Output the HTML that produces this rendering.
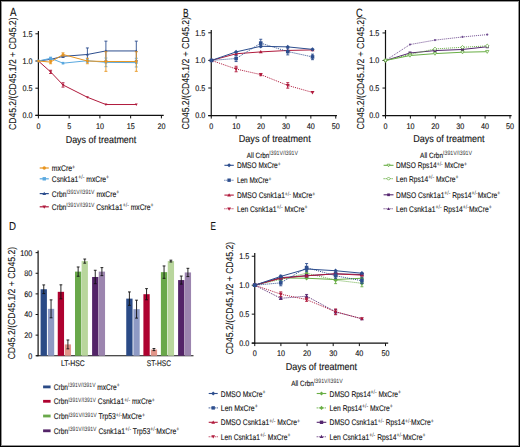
<!DOCTYPE html>
<html><head><meta charset="utf-8"><style>
html,body{margin:0;padding:0;background:#fff;}
#wrap{position:relative;width:520px;height:447px;overflow:hidden;}
#wrap svg{position:absolute;left:0;top:0;}
#frame{position:absolute;left:0;top:0;width:520px;height:447px;box-sizing:border-box;border:1px solid #000;box-shadow:inset 0 0 0 1px rgba(0,0,0,0.42);}
text{font-family:"Liberation Sans",sans-serif;stroke:#111;stroke-width:0.12px;text-rendering:geometricPrecision;} tspan[font-size="6.3"]{stroke-width:0;fill:#333;}
</style></head><body><div id="wrap">
<svg width="520" height="447" viewBox="0 0 520 447" font-family="Liberation Sans, sans-serif">
<rect x="0" y="0" width="520" height="447" fill="#fff"/>
<text x="0" y="0" font-size="10" text-anchor="middle" fill="#111" textLength="112.5" lengthAdjust="spacingAndGlyphs" transform="translate(16.1,73.75) rotate(-90)">CD45.2/(CD45.1/2 + CD45.2)</text>
<text x="10.1" y="16.0" font-size="11.8" text-anchor="start" fill="#111" textLength="6.5" lengthAdjust="spacingAndGlyphs" >A</text>
<line x1="38.40" y1="31.00" x2="38.40" y2="116.00" stroke="#111" stroke-width="1.2" />
<line x1="35.40" y1="115.40" x2="163.70" y2="115.40" stroke="#111" stroke-width="1.2" />
<line x1="35.40" y1="115.40" x2="38.40" y2="115.40" stroke="#111" stroke-width="1" />
<text x="22.47" y="118.25" font-size="8.2" text-anchor="start" fill="#111" textLength="10.03" lengthAdjust="spacingAndGlyphs" >0.0</text>
<line x1="35.40" y1="88.20" x2="38.40" y2="88.20" stroke="#111" stroke-width="1" />
<text x="22.47" y="91.05" font-size="8.2" text-anchor="start" fill="#111" textLength="10.03" lengthAdjust="spacingAndGlyphs" >0.5</text>
<line x1="35.40" y1="61.00" x2="38.40" y2="61.00" stroke="#111" stroke-width="1" />
<text x="22.47" y="63.85000000000001" font-size="8.2" text-anchor="start" fill="#111" textLength="10.03" lengthAdjust="spacingAndGlyphs" >1.0</text>
<line x1="35.40" y1="33.80" x2="38.40" y2="33.80" stroke="#111" stroke-width="1" />
<text x="22.47" y="36.65000000000001" font-size="8.2" text-anchor="start" fill="#111" textLength="10.03" lengthAdjust="spacingAndGlyphs" >1.5</text>
<line x1="38.40" y1="115.40" x2="38.40" y2="118.40" stroke="#111" stroke-width="1" />
<text x="36.39" y="129.4" font-size="8.2" text-anchor="start" fill="#111" textLength="4.01" lengthAdjust="spacingAndGlyphs" >0</text>
<line x1="69.15" y1="115.40" x2="69.15" y2="118.40" stroke="#111" stroke-width="1" />
<text x="67.15" y="129.4" font-size="8.2" text-anchor="start" fill="#111" textLength="4.01" lengthAdjust="spacingAndGlyphs" >5</text>
<line x1="99.90" y1="115.40" x2="99.90" y2="118.40" stroke="#111" stroke-width="1" />
<text x="95.89" y="129.4" font-size="8.2" text-anchor="start" fill="#111" textLength="8.03" lengthAdjust="spacingAndGlyphs" >10</text>
<line x1="130.65" y1="115.40" x2="130.65" y2="118.40" stroke="#111" stroke-width="1" />
<text x="126.64" y="129.4" font-size="8.2" text-anchor="start" fill="#111" textLength="8.03" lengthAdjust="spacingAndGlyphs" >15</text>
<line x1="161.40" y1="115.40" x2="161.40" y2="118.40" stroke="#111" stroke-width="1" />
<text x="157.39" y="129.4" font-size="8.2" text-anchor="start" fill="#111" textLength="8.03" lengthAdjust="spacingAndGlyphs" >20</text>
<text x="65.7" y="142.6" font-size="10.0" text-anchor="start" fill="#111" textLength="70.6" lengthAdjust="spacingAndGlyphs" >Days of treatment</text>
<polyline points="38.40,61.00 50.60,71.88 63.00,84.94 87.40,97.28 105.90,104.52 136.30,104.52" fill="none" stroke="#B01A3C" stroke-width="1.0" stroke-linejoin="round"/>
<path d="M38.40,62.43L39.83,59.96L36.97,59.96Z" fill="#B01A3C"/>
<line x1="50.60" y1="70.25" x2="50.60" y2="73.51" stroke="#B01A3C" stroke-width="0.9" />
<line x1="49.10" y1="70.25" x2="52.10" y2="70.25" stroke="#B01A3C" stroke-width="0.9" />
<line x1="49.10" y1="73.51" x2="52.10" y2="73.51" stroke="#B01A3C" stroke-width="0.9" />
<path d="M50.60,73.31L52.03,70.84L49.17,70.84Z" fill="#B01A3C"/>
<line x1="63.00" y1="82.76" x2="63.00" y2="87.11" stroke="#B01A3C" stroke-width="0.9" />
<line x1="61.50" y1="82.76" x2="64.50" y2="82.76" stroke="#B01A3C" stroke-width="0.9" />
<line x1="61.50" y1="87.11" x2="64.50" y2="87.11" stroke="#B01A3C" stroke-width="0.9" />
<path d="M63.00,86.37L64.43,83.90L61.57,83.90Z" fill="#B01A3C"/>
<path d="M87.40,98.71L88.83,96.24L85.97,96.24Z" fill="#B01A3C"/>
<path d="M105.90,105.95L107.33,103.48L104.47,103.48Z" fill="#B01A3C"/>
<path d="M136.30,105.95L137.73,103.48L134.87,103.48Z" fill="#B01A3C"/>
<polyline points="38.40,61.00 50.60,59.37 63.00,56.38 87.40,54.47 105.90,50.94 136.30,50.94" fill="none" stroke="#2D4E8E" stroke-width="1.0" stroke-linejoin="round"/>
<path d="M38.40,59.57L39.83,62.04L36.97,62.04Z" fill="#2D4E8E"/>
<path d="M50.60,57.94L52.03,60.41L49.17,60.41Z" fill="#2D4E8E"/>
<line x1="63.00" y1="55.29" x2="63.00" y2="57.46" stroke="#2D4E8E" stroke-width="0.9" />
<line x1="61.50" y1="55.29" x2="64.50" y2="55.29" stroke="#2D4E8E" stroke-width="0.9" />
<line x1="61.50" y1="57.46" x2="64.50" y2="57.46" stroke="#2D4E8E" stroke-width="0.9" />
<path d="M63.00,54.95L64.43,57.42L61.57,57.42Z" fill="#2D4E8E"/>
<line x1="87.40" y1="47.94" x2="87.40" y2="61.00" stroke="#2D4E8E" stroke-width="0.9" />
<line x1="85.90" y1="47.94" x2="88.90" y2="47.94" stroke="#2D4E8E" stroke-width="0.9" />
<line x1="85.90" y1="61.00" x2="88.90" y2="61.00" stroke="#2D4E8E" stroke-width="0.9" />
<path d="M87.40,53.04L88.83,55.51L85.97,55.51Z" fill="#2D4E8E"/>
<line x1="105.90" y1="41.14" x2="105.90" y2="60.73" stroke="#2D4E8E" stroke-width="0.9" />
<line x1="104.40" y1="41.14" x2="107.40" y2="41.14" stroke="#2D4E8E" stroke-width="0.9" />
<line x1="104.40" y1="60.73" x2="107.40" y2="60.73" stroke="#2D4E8E" stroke-width="0.9" />
<path d="M105.90,49.51L107.33,51.98L104.47,51.98Z" fill="#2D4E8E"/>
<line x1="136.30" y1="41.14" x2="136.30" y2="60.73" stroke="#2D4E8E" stroke-width="0.9" />
<line x1="134.80" y1="41.14" x2="137.80" y2="41.14" stroke="#2D4E8E" stroke-width="0.9" />
<line x1="134.80" y1="60.73" x2="137.80" y2="60.73" stroke="#2D4E8E" stroke-width="0.9" />
<path d="M136.30,49.51L137.73,51.98L134.87,51.98Z" fill="#2D4E8E"/>
<polyline points="38.40,61.00 50.60,58.28 63.00,63.18 87.40,60.73 105.90,62.36 136.30,62.63" fill="none" stroke="#5AA9E0" stroke-width="1.0" stroke-linejoin="round"/>
<rect x="37.10" y="59.70" width="2.60" height="2.60" fill="#5AA9E0"/>
<line x1="50.60" y1="57.19" x2="50.60" y2="59.37" stroke="#5AA9E0" stroke-width="0.9" />
<line x1="49.10" y1="57.19" x2="52.10" y2="57.19" stroke="#5AA9E0" stroke-width="0.9" />
<line x1="49.10" y1="59.37" x2="52.10" y2="59.37" stroke="#5AA9E0" stroke-width="0.9" />
<rect x="49.30" y="56.98" width="2.60" height="2.60" fill="#5AA9E0"/>
<rect x="61.70" y="61.88" width="2.60" height="2.60" fill="#5AA9E0"/>
<line x1="87.40" y1="59.10" x2="87.40" y2="62.36" stroke="#5AA9E0" stroke-width="0.9" />
<line x1="85.90" y1="59.10" x2="88.90" y2="59.10" stroke="#5AA9E0" stroke-width="0.9" />
<line x1="85.90" y1="62.36" x2="88.90" y2="62.36" stroke="#5AA9E0" stroke-width="0.9" />
<rect x="86.10" y="59.43" width="2.60" height="2.60" fill="#5AA9E0"/>
<line x1="105.90" y1="58.01" x2="105.90" y2="66.71" stroke="#5AA9E0" stroke-width="0.9" />
<line x1="104.40" y1="58.01" x2="107.40" y2="58.01" stroke="#5AA9E0" stroke-width="0.9" />
<line x1="104.40" y1="66.71" x2="107.40" y2="66.71" stroke="#5AA9E0" stroke-width="0.9" />
<rect x="104.60" y="61.06" width="2.60" height="2.60" fill="#5AA9E0"/>
<line x1="136.30" y1="58.28" x2="136.30" y2="66.98" stroke="#5AA9E0" stroke-width="0.9" />
<line x1="134.80" y1="58.28" x2="137.80" y2="58.28" stroke="#5AA9E0" stroke-width="0.9" />
<line x1="134.80" y1="66.98" x2="137.80" y2="66.98" stroke="#5AA9E0" stroke-width="0.9" />
<rect x="135.00" y="61.33" width="2.60" height="2.60" fill="#5AA9E0"/>
<polyline points="38.40,61.00 50.60,62.09 63.00,54.47 87.40,61.00 105.90,61.54 136.30,61.54" fill="none" stroke="#E8951F" stroke-width="1.0" stroke-linejoin="round"/>
<circle cx="38.40" cy="61.00" r="1.30" fill="#E8951F"/>
<line x1="50.60" y1="60.46" x2="50.60" y2="63.72" stroke="#E8951F" stroke-width="0.9" />
<line x1="49.10" y1="60.46" x2="52.10" y2="60.46" stroke="#E8951F" stroke-width="0.9" />
<line x1="49.10" y1="63.72" x2="52.10" y2="63.72" stroke="#E8951F" stroke-width="0.9" />
<circle cx="50.60" cy="62.09" r="1.30" fill="#E8951F"/>
<line x1="63.00" y1="52.84" x2="63.00" y2="56.10" stroke="#E8951F" stroke-width="0.9" />
<line x1="61.50" y1="52.84" x2="64.50" y2="52.84" stroke="#E8951F" stroke-width="0.9" />
<line x1="61.50" y1="56.10" x2="64.50" y2="56.10" stroke="#E8951F" stroke-width="0.9" />
<circle cx="63.00" cy="54.47" r="1.30" fill="#E8951F"/>
<line x1="87.40" y1="58.28" x2="87.40" y2="63.72" stroke="#E8951F" stroke-width="0.9" />
<line x1="85.90" y1="58.28" x2="88.90" y2="58.28" stroke="#E8951F" stroke-width="0.9" />
<line x1="85.90" y1="63.72" x2="88.90" y2="63.72" stroke="#E8951F" stroke-width="0.9" />
<circle cx="87.40" cy="61.00" r="1.30" fill="#E8951F"/>
<line x1="105.90" y1="51.75" x2="105.90" y2="71.34" stroke="#E8951F" stroke-width="0.9" />
<line x1="104.40" y1="51.75" x2="107.40" y2="51.75" stroke="#E8951F" stroke-width="0.9" />
<line x1="104.40" y1="71.34" x2="107.40" y2="71.34" stroke="#E8951F" stroke-width="0.9" />
<circle cx="105.90" cy="61.54" r="1.30" fill="#E8951F"/>
<line x1="136.30" y1="51.75" x2="136.30" y2="71.34" stroke="#E8951F" stroke-width="0.9" />
<line x1="134.80" y1="51.75" x2="137.80" y2="51.75" stroke="#E8951F" stroke-width="0.9" />
<line x1="134.80" y1="71.34" x2="137.80" y2="71.34" stroke="#E8951F" stroke-width="0.9" />
<circle cx="136.30" cy="61.54" r="1.30" fill="#E8951F"/>
<line x1="39.70" y1="168.00" x2="48.80" y2="168.00" stroke="#E8951F" stroke-width="1.2" />
<circle cx="44.25" cy="168.00" r="1.70" fill="#E8951F"/>
<text x="51.8" y="171.1" font-size="8.3" fill="#111" textLength="23.30" lengthAdjust="spacingAndGlyphs">mxCre<tspan font-size="6.3" dy="-2.6">+</tspan></text>
<line x1="39.70" y1="178.80" x2="48.80" y2="178.80" stroke="#5AA9E0" stroke-width="1.2" />
<rect x="42.55" y="177.10" width="3.40" height="3.40" fill="#5AA9E0"/>
<text x="51.8" y="181.9" font-size="8.3" fill="#111" textLength="57.30" lengthAdjust="spacingAndGlyphs">Csnk1a1<tspan font-size="6.3" dy="-2.6">+/-</tspan><tspan dy="2.6"> mxCre</tspan><tspan font-size="6.3" dy="-2.6">+</tspan></text>
<line x1="39.70" y1="193.60" x2="48.80" y2="193.60" stroke="#2D4E8E" stroke-width="1.2" />
<path d="M44.25,191.73L46.12,194.96L42.38,194.96Z" fill="#2D4E8E"/>
<text x="51.8" y="196.7" font-size="8.3" fill="#111" textLength="67.40" lengthAdjust="spacingAndGlyphs">Crbn<tspan font-size="6.3" dy="-2.6">I391V/I391V</tspan><tspan dy="2.6"> mxCre</tspan><tspan font-size="6.3" dy="-2.6">+</tspan></text>
<line x1="39.70" y1="206.80" x2="48.80" y2="206.80" stroke="#B01A3C" stroke-width="1.2" />
<path d="M44.25,208.67L46.12,205.44L42.38,205.44Z" fill="#B01A3C"/>
<text x="51.8" y="209.9" font-size="8.3" fill="#111" textLength="101.70" lengthAdjust="spacingAndGlyphs">Crbn<tspan font-size="6.3" dy="-2.6">I391V/I391V</tspan><tspan dy="2.6"> Csnk1a1</tspan><tspan font-size="6.3" dy="-2.6">+/-</tspan><tspan dy="2.6"> mxCre</tspan><tspan font-size="6.3" dy="-2.6">+</tspan></text>
<text x="0" y="0" font-size="10" text-anchor="middle" fill="#111" textLength="112.5" lengthAdjust="spacingAndGlyphs" transform="translate(189.4,73.25) rotate(-90)">CD45.2/(CD45.1/2 + CD45.2)</text>
<text x="183.0" y="16.8" font-size="12" text-anchor="start" fill="#111" textLength="5.6" lengthAdjust="spacingAndGlyphs" >B</text>
<line x1="211.25" y1="30.00" x2="211.25" y2="116.20" stroke="#111" stroke-width="1.2" />
<line x1="208.25" y1="115.60" x2="337.00" y2="115.60" stroke="#111" stroke-width="1.2" />
<line x1="208.25" y1="115.60" x2="211.25" y2="115.60" stroke="#111" stroke-width="1" />
<text x="195.17" y="118.44999999999999" font-size="8.2" text-anchor="start" fill="#111" textLength="10.03" lengthAdjust="spacingAndGlyphs" >0.0</text>
<line x1="208.25" y1="88.00" x2="211.25" y2="88.00" stroke="#111" stroke-width="1" />
<text x="195.17" y="90.85" font-size="8.2" text-anchor="start" fill="#111" textLength="10.03" lengthAdjust="spacingAndGlyphs" >0.5</text>
<line x1="208.25" y1="60.40" x2="211.25" y2="60.40" stroke="#111" stroke-width="1" />
<text x="195.17" y="63.24999999999999" font-size="8.2" text-anchor="start" fill="#111" textLength="10.03" lengthAdjust="spacingAndGlyphs" >1.0</text>
<line x1="208.25" y1="32.80" x2="211.25" y2="32.80" stroke="#111" stroke-width="1" />
<text x="195.17" y="35.649999999999984" font-size="8.2" text-anchor="start" fill="#111" textLength="10.03" lengthAdjust="spacingAndGlyphs" >1.5</text>
<line x1="211.25" y1="115.60" x2="211.25" y2="118.60" stroke="#111" stroke-width="1" />
<text x="209.25" y="128.5" font-size="8.2" text-anchor="start" fill="#111" textLength="4.01" lengthAdjust="spacingAndGlyphs" >0</text>
<line x1="236.15" y1="115.60" x2="236.15" y2="118.60" stroke="#111" stroke-width="1" />
<text x="232.14" y="128.5" font-size="8.2" text-anchor="start" fill="#111" textLength="8.03" lengthAdjust="spacingAndGlyphs" >10</text>
<line x1="261.05" y1="115.60" x2="261.05" y2="118.60" stroke="#111" stroke-width="1" />
<text x="257.04" y="128.5" font-size="8.2" text-anchor="start" fill="#111" textLength="8.03" lengthAdjust="spacingAndGlyphs" >20</text>
<line x1="285.95" y1="115.60" x2="285.95" y2="118.60" stroke="#111" stroke-width="1" />
<text x="281.94" y="128.5" font-size="8.2" text-anchor="start" fill="#111" textLength="8.03" lengthAdjust="spacingAndGlyphs" >30</text>
<line x1="310.85" y1="115.60" x2="310.85" y2="118.60" stroke="#111" stroke-width="1" />
<text x="306.84" y="128.5" font-size="8.2" text-anchor="start" fill="#111" textLength="8.03" lengthAdjust="spacingAndGlyphs" >40</text>
<line x1="335.75" y1="115.60" x2="335.75" y2="118.60" stroke="#111" stroke-width="1" />
<text x="331.74" y="128.5" font-size="8.2" text-anchor="start" fill="#111" textLength="8.03" lengthAdjust="spacingAndGlyphs" >50</text>
<text x="238.7" y="141.9" font-size="10.0" text-anchor="start" fill="#111" textLength="72" lengthAdjust="spacingAndGlyphs" >Days of treatment</text>
<polyline points="211.50,60.40 236.10,69.01 260.75,74.59 287.75,85.41 312.50,92.42" fill="none" stroke="#B01A3C" stroke-width="1.0" stroke-dasharray="1,1" stroke-linejoin="round"/>
<polyline points="211.50,60.40 236.10,53.78 260.75,51.90 287.75,50.46 312.50,49.91" fill="none" stroke="#B01A3C" stroke-width="1.0" stroke-linejoin="round"/>
<polyline points="211.50,60.40 236.10,58.52 260.75,43.12 287.75,51.57 312.50,56.92" fill="none" stroke="#2D4E8E" stroke-width="1.0" stroke-dasharray="1,1" stroke-linejoin="round"/>
<polyline points="211.50,60.40 236.10,51.90 260.75,46.27 287.75,46.88 312.50,49.36" fill="none" stroke="#2D4E8E" stroke-width="1.0" stroke-linejoin="round"/>
<path d="M211.50,62.38L213.48,58.96L209.52,58.96Z" fill="#B01A3C"/>
<line x1="236.10" y1="66.25" x2="236.10" y2="71.77" stroke="#B01A3C" stroke-width="0.9" />
<line x1="234.60" y1="66.25" x2="237.60" y2="66.25" stroke="#B01A3C" stroke-width="0.9" />
<line x1="234.60" y1="71.77" x2="237.60" y2="71.77" stroke="#B01A3C" stroke-width="0.9" />
<path d="M236.10,70.99L238.08,67.57L234.12,67.57Z" fill="#B01A3C"/>
<line x1="260.75" y1="73.48" x2="260.75" y2="75.69" stroke="#B01A3C" stroke-width="0.9" />
<line x1="259.25" y1="73.48" x2="262.25" y2="73.48" stroke="#B01A3C" stroke-width="0.9" />
<line x1="259.25" y1="75.69" x2="262.25" y2="75.69" stroke="#B01A3C" stroke-width="0.9" />
<path d="M260.75,76.57L262.73,73.15L258.77,73.15Z" fill="#B01A3C"/>
<line x1="287.75" y1="82.65" x2="287.75" y2="88.17" stroke="#B01A3C" stroke-width="0.9" />
<line x1="286.25" y1="82.65" x2="289.25" y2="82.65" stroke="#B01A3C" stroke-width="0.9" />
<line x1="286.25" y1="88.17" x2="289.25" y2="88.17" stroke="#B01A3C" stroke-width="0.9" />
<path d="M287.75,87.39L289.73,83.97L285.77,83.97Z" fill="#B01A3C"/>
<path d="M312.50,94.40L314.48,90.98L310.52,90.98Z" fill="#B01A3C"/>
<path d="M211.50,58.42L213.48,61.84L209.52,61.84Z" fill="#B01A3C"/>
<path d="M236.10,51.80L238.08,55.22L234.12,55.22Z" fill="#B01A3C"/>
<path d="M260.75,49.92L262.73,53.34L258.77,53.34Z" fill="#B01A3C"/>
<path d="M287.75,48.48L289.73,51.90L285.77,51.90Z" fill="#B01A3C"/>
<path d="M312.50,47.93L314.48,51.35L310.52,51.35Z" fill="#B01A3C"/>
<rect x="209.70" y="58.60" width="3.60" height="3.60" fill="#2D4E8E"/>
<line x1="236.10" y1="55.49" x2="236.10" y2="61.56" stroke="#2D4E8E" stroke-width="0.9" />
<line x1="234.60" y1="55.49" x2="237.60" y2="55.49" stroke="#2D4E8E" stroke-width="0.9" />
<line x1="234.60" y1="61.56" x2="237.60" y2="61.56" stroke="#2D4E8E" stroke-width="0.9" />
<rect x="234.30" y="56.72" width="3.60" height="3.60" fill="#2D4E8E"/>
<line x1="260.75" y1="39.26" x2="260.75" y2="46.99" stroke="#2D4E8E" stroke-width="0.9" />
<line x1="259.25" y1="39.26" x2="262.25" y2="39.26" stroke="#2D4E8E" stroke-width="0.9" />
<line x1="259.25" y1="46.99" x2="262.25" y2="46.99" stroke="#2D4E8E" stroke-width="0.9" />
<rect x="258.95" y="41.32" width="3.60" height="3.60" fill="#2D4E8E"/>
<line x1="287.75" y1="48.26" x2="287.75" y2="54.88" stroke="#2D4E8E" stroke-width="0.9" />
<line x1="286.25" y1="48.26" x2="289.25" y2="48.26" stroke="#2D4E8E" stroke-width="0.9" />
<line x1="286.25" y1="54.88" x2="289.25" y2="54.88" stroke="#2D4E8E" stroke-width="0.9" />
<rect x="285.95" y="49.77" width="3.60" height="3.60" fill="#2D4E8E"/>
<line x1="312.50" y1="54.16" x2="312.50" y2="59.68" stroke="#2D4E8E" stroke-width="0.9" />
<line x1="311.00" y1="54.16" x2="314.00" y2="54.16" stroke="#2D4E8E" stroke-width="0.9" />
<line x1="311.00" y1="59.68" x2="314.00" y2="59.68" stroke="#2D4E8E" stroke-width="0.9" />
<rect x="310.70" y="55.12" width="3.60" height="3.60" fill="#2D4E8E"/>
<path d="M211.50,58.24L213.66,60.40L211.50,62.56L209.34,60.40Z" fill="#2D4E8E"/>
<path d="M236.10,49.74L238.26,51.90L236.10,54.06L233.94,51.90Z" fill="#2D4E8E"/>
<path d="M260.75,44.11L262.91,46.27L260.75,48.43L258.59,46.27Z" fill="#2D4E8E"/>
<path d="M287.75,44.72L289.91,46.88L287.75,49.04L285.59,46.88Z" fill="#2D4E8E"/>
<path d="M312.50,47.20L314.66,49.36L312.50,51.52L310.34,49.36Z" fill="#2D4E8E"/>
<text x="246.8" y="157.6" font-size="7.7" fill="#111" textLength="51.2" lengthAdjust="spacingAndGlyphs">All Crbn<tspan font-size="6.3" dy="-2.6">I391V/I391V</tspan></text>
<line x1="224.40" y1="165.30" x2="233.80" y2="165.30" stroke="#2D4E8E" stroke-width="1.1" />
<path d="M229.10,163.26L231.14,165.30L229.10,167.34L227.06,165.30Z" fill="#2D4E8E"/>
<text x="236.9" y="168.4" font-size="8.3" fill="#111" textLength="43.80" lengthAdjust="spacingAndGlyphs">DMSO MxCre<tspan font-size="6.3" dy="-2.6">+</tspan></text>
<line x1="224.40" y1="180.20" x2="233.80" y2="180.20" stroke="#2D4E8E" stroke-width="1.1" stroke-dasharray="1,1" />
<rect x="227.40" y="178.50" width="3.40" height="3.40" fill="#2D4E8E"/>
<text x="236.9" y="183.29999999999998" font-size="8.3" fill="#111" textLength="34.40" lengthAdjust="spacingAndGlyphs">Len MxCre<tspan font-size="6.3" dy="-2.6">+</tspan></text>
<line x1="224.40" y1="195.10" x2="233.80" y2="195.10" stroke="#B01A3C" stroke-width="1.1" />
<path d="M229.10,193.23L230.97,196.46L227.23,196.46Z" fill="#B01A3C"/>
<text x="236.9" y="198.2" font-size="8.3" fill="#111" textLength="78.30" lengthAdjust="spacingAndGlyphs">DMSO Csnk1a1<tspan font-size="6.3" dy="-2.6">+/-</tspan><tspan dy="2.6"> MxCre</tspan><tspan font-size="6.3" dy="-2.6">+</tspan></text>
<line x1="224.40" y1="208.80" x2="233.80" y2="208.80" stroke="#B01A3C" stroke-width="1.1" stroke-dasharray="1,1" />
<path d="M229.10,210.67L230.97,207.44L227.23,207.44Z" fill="#B01A3C"/>
<text x="236.9" y="211.9" font-size="8.3" fill="#111" textLength="70.50" lengthAdjust="spacingAndGlyphs">Len Csnk1a1<tspan font-size="6.3" dy="-2.6">+/-</tspan><tspan dy="2.6"> MxCre</tspan><tspan font-size="6.3" dy="-2.6">+</tspan></text>
<text x="0" y="0" font-size="10" text-anchor="middle" fill="#111" textLength="112.5" lengthAdjust="spacingAndGlyphs" transform="translate(363.75,73.25) rotate(-90)">CD45.2/(CD45.1/2 + CD45.2)</text>
<text x="356.1" y="16.7" font-size="12.2" text-anchor="start" fill="#111" textLength="6.7" lengthAdjust="spacingAndGlyphs" >C</text>
<line x1="385.50" y1="30.00" x2="385.50" y2="116.20" stroke="#111" stroke-width="1.2" />
<line x1="382.50" y1="115.60" x2="511.60" y2="115.60" stroke="#111" stroke-width="1.2" />
<line x1="382.50" y1="115.60" x2="385.50" y2="115.60" stroke="#111" stroke-width="1" />
<text x="369.27" y="118.44999999999999" font-size="8.2" text-anchor="start" fill="#111" textLength="10.03" lengthAdjust="spacingAndGlyphs" >0.0</text>
<line x1="382.50" y1="88.05" x2="385.50" y2="88.05" stroke="#111" stroke-width="1" />
<text x="369.27" y="90.89999999999999" font-size="8.2" text-anchor="start" fill="#111" textLength="10.03" lengthAdjust="spacingAndGlyphs" >0.5</text>
<line x1="382.50" y1="60.50" x2="385.50" y2="60.50" stroke="#111" stroke-width="1" />
<text x="369.27" y="63.349999999999994" font-size="8.2" text-anchor="start" fill="#111" textLength="10.03" lengthAdjust="spacingAndGlyphs" >1.0</text>
<line x1="382.50" y1="32.95" x2="385.50" y2="32.95" stroke="#111" stroke-width="1" />
<text x="369.27" y="35.79999999999999" font-size="8.2" text-anchor="start" fill="#111" textLength="10.03" lengthAdjust="spacingAndGlyphs" >1.5</text>
<line x1="385.50" y1="115.60" x2="385.50" y2="118.60" stroke="#111" stroke-width="1" />
<text x="383.5" y="128.5" font-size="8.2" text-anchor="start" fill="#111" textLength="4.01" lengthAdjust="spacingAndGlyphs" >0</text>
<line x1="410.40" y1="115.60" x2="410.40" y2="118.60" stroke="#111" stroke-width="1" />
<text x="406.38" y="128.5" font-size="8.2" text-anchor="start" fill="#111" textLength="8.03" lengthAdjust="spacingAndGlyphs" >10</text>
<line x1="435.30" y1="115.60" x2="435.30" y2="118.60" stroke="#111" stroke-width="1" />
<text x="431.29" y="128.5" font-size="8.2" text-anchor="start" fill="#111" textLength="8.03" lengthAdjust="spacingAndGlyphs" >20</text>
<line x1="460.20" y1="115.60" x2="460.20" y2="118.60" stroke="#111" stroke-width="1" />
<text x="456.19" y="128.5" font-size="8.2" text-anchor="start" fill="#111" textLength="8.03" lengthAdjust="spacingAndGlyphs" >30</text>
<line x1="485.10" y1="115.60" x2="485.10" y2="118.60" stroke="#111" stroke-width="1" />
<text x="481.09" y="128.5" font-size="8.2" text-anchor="start" fill="#111" textLength="8.03" lengthAdjust="spacingAndGlyphs" >40</text>
<line x1="510.00" y1="115.60" x2="510.00" y2="118.60" stroke="#111" stroke-width="1" />
<text x="505.99" y="128.5" font-size="8.2" text-anchor="start" fill="#111" textLength="8.03" lengthAdjust="spacingAndGlyphs" >50</text>
<text x="413.2" y="142.0" font-size="10.0" text-anchor="start" fill="#111" textLength="71.4" lengthAdjust="spacingAndGlyphs" >Days of treatment</text>
<polyline points="385.50,60.50 410.00,44.52 435.00,40.11 462.50,36.97 487.25,34.60" fill="none" stroke="#6F4C90" stroke-width="1.0" stroke-dasharray="1,1" stroke-linejoin="round"/>
<polyline points="385.50,60.50 410.00,53.01 435.00,50.58 462.50,49.48 487.25,46.72" fill="none" stroke="#55266F" stroke-width="1.0" stroke-linejoin="round"/>
<polyline points="385.50,60.50 410.00,54.44 435.00,48.93 462.50,47.28 487.25,45.90" fill="none" stroke="#69AE45" stroke-width="1.0" stroke-dasharray="1,1" stroke-linejoin="round"/>
<polyline points="385.50,60.50 410.00,55.54 435.00,53.61 462.50,52.23 487.25,51.68" fill="none" stroke="#69AE45" stroke-width="1.0" stroke-linejoin="round"/>
<circle cx="385.50" cy="60.50" r="1.10" fill="#6F4C90"/>
<circle cx="410.00" cy="44.52" r="1.10" fill="#6F4C90"/>
<circle cx="435.00" cy="40.11" r="1.10" fill="#6F4C90"/>
<circle cx="462.50" cy="36.97" r="1.10" fill="#6F4C90"/>
<circle cx="487.25" cy="34.60" r="1.10" fill="#6F4C90"/>
<rect x="384.00" y="59.00" width="3.00" height="3.00" fill="#55266F"/>
<rect x="408.50" y="51.51" width="3.00" height="3.00" fill="#55266F"/>
<rect x="433.50" y="49.08" width="3.00" height="3.00" fill="#55266F"/>
<rect x="461.00" y="47.98" width="3.00" height="3.00" fill="#55266F"/>
<rect x="485.75" y="45.22" width="3.00" height="3.00" fill="#55266F"/>
<path d="M385.50,58.70L387.30,60.50L385.50,62.30L383.70,60.50Z" fill="#fff" stroke="#69AE45" stroke-width="0.8"/>
<path d="M410.00,52.64L411.80,54.44L410.00,56.24L408.20,54.44Z" fill="#fff" stroke="#69AE45" stroke-width="0.8"/>
<path d="M435.00,47.13L436.80,48.93L435.00,50.73L433.20,48.93Z" fill="#fff" stroke="#69AE45" stroke-width="0.8"/>
<path d="M462.50,45.48L464.30,47.28L462.50,49.08L460.70,47.28Z" fill="#fff" stroke="#69AE45" stroke-width="0.8"/>
<path d="M487.25,44.10L489.05,45.90L487.25,47.70L485.45,45.90Z" fill="#fff" stroke="#69AE45" stroke-width="0.8"/>
<path d="M385.50,62.15L387.15,59.30L383.85,59.30Z" fill="#fff" stroke="#69AE45" stroke-width="0.8"/>
<path d="M410.00,57.19L411.65,54.34L408.35,54.34Z" fill="#fff" stroke="#69AE45" stroke-width="0.8"/>
<path d="M435.00,55.26L436.65,52.41L433.35,52.41Z" fill="#fff" stroke="#69AE45" stroke-width="0.8"/>
<path d="M462.50,53.88L464.15,51.03L460.85,51.03Z" fill="#fff" stroke="#69AE45" stroke-width="0.8"/>
<path d="M487.25,53.33L488.90,50.48L485.60,50.48Z" fill="#fff" stroke="#69AE45" stroke-width="0.8"/>
<text x="420.1" y="157.6" font-size="7.7" fill="#111" textLength="52" lengthAdjust="spacingAndGlyphs">All Crbn<tspan font-size="6.3" dy="-2.6">I391V/I391V</tspan></text>
<line x1="383.60" y1="165.30" x2="393.50" y2="165.30" stroke="#69AE45" stroke-width="1.1" />
<path d="M388.55,166.79L390.04,164.22L387.06,164.22Z" fill="#fff" stroke="#69AE45" stroke-width="0.8"/>
<text x="396.1" y="168.4" font-size="8.3" fill="#111" textLength="70.80" lengthAdjust="spacingAndGlyphs">DMSO Rps14<tspan font-size="6.3" dy="-2.6">+/-</tspan><tspan dy="2.6"> MxCre</tspan><tspan font-size="6.3" dy="-2.6">+</tspan></text>
<line x1="383.60" y1="178.60" x2="393.50" y2="178.60" stroke="#69AE45" stroke-width="1.1" stroke-dasharray="1,1" />
<path d="M388.55,176.98L390.17,178.60L388.55,180.22L386.93,178.60Z" fill="#fff" stroke="#69AE45" stroke-width="0.8"/>
<text x="396.1" y="181.7" font-size="8.3" fill="#111" textLength="62.40" lengthAdjust="spacingAndGlyphs">Len Rps14<tspan font-size="6.3" dy="-2.6">+/-</tspan><tspan dy="2.6"> MxCre</tspan><tspan font-size="6.3" dy="-2.6">+</tspan></text>
<line x1="383.60" y1="194.80" x2="393.50" y2="194.80" stroke="#55266F" stroke-width="1.1" />
<rect x="387.20" y="193.45" width="2.70" height="2.70" fill="#55266F"/>
<text x="396.1" y="197.9" font-size="8.3" fill="#111" textLength="104.20" lengthAdjust="spacingAndGlyphs">DMSO Csnk1a1<tspan font-size="6.3" dy="-2.6">+/-</tspan><tspan dy="2.6"> Rps14</tspan><tspan font-size="6.3" dy="-2.6">+/-</tspan><tspan dy="2.6">MxCre</tspan><tspan font-size="6.3" dy="-2.6">+</tspan></text>
<line x1="383.60" y1="208.80" x2="393.50" y2="208.80" stroke="#55266F" stroke-width="1.1" stroke-dasharray="1,1" />
<path d="M388.55,207.31L390.04,209.88L387.06,209.88Z" fill="#55266F"/>
<text x="396.1" y="211.9" font-size="8.3" fill="#111" textLength="95.50" lengthAdjust="spacingAndGlyphs">Len Csnk1a1<tspan font-size="6.3" dy="-2.6">+/-</tspan><tspan dy="2.6"> Rps14</tspan><tspan font-size="6.3" dy="-2.6">+/-</tspan><tspan dy="2.6">MxCre</tspan><tspan font-size="6.3" dy="-2.6">+</tspan></text>
<text x="9" y="229.75" font-size="11.6" text-anchor="start" fill="#111" textLength="7" lengthAdjust="spacingAndGlyphs" >D</text>
<text x="0" y="0" font-size="10" text-anchor="middle" fill="#111" textLength="112.5" lengthAdjust="spacingAndGlyphs" transform="translate(14.75,303.1) rotate(-90)">CD45.2/(CD45.1/2 + CD45.2)</text>
<line x1="38.10" y1="250.40" x2="38.10" y2="356.35" stroke="#111" stroke-width="1.2" />
<line x1="36.25" y1="355.75" x2="193.50" y2="355.75" stroke="#111" stroke-width="1.2" />
<line x1="35.60" y1="355.75" x2="38.10" y2="355.75" stroke="#111" stroke-width="1" />
<text x="28.19" y="358.6" font-size="8.2" text-anchor="start" fill="#111" textLength="4.01" lengthAdjust="spacingAndGlyphs" >0</text>
<line x1="35.60" y1="335.13" x2="38.10" y2="335.13" stroke="#111" stroke-width="1" />
<text x="24.17" y="337.98" font-size="8.2" text-anchor="start" fill="#111" textLength="8.03" lengthAdjust="spacingAndGlyphs" >20</text>
<line x1="35.60" y1="314.51" x2="38.10" y2="314.51" stroke="#111" stroke-width="1" />
<text x="24.17" y="317.36" font-size="8.2" text-anchor="start" fill="#111" textLength="8.03" lengthAdjust="spacingAndGlyphs" >40</text>
<line x1="35.60" y1="293.89" x2="38.10" y2="293.89" stroke="#111" stroke-width="1" />
<text x="24.17" y="296.74" font-size="8.2" text-anchor="start" fill="#111" textLength="8.03" lengthAdjust="spacingAndGlyphs" >60</text>
<line x1="35.60" y1="273.27" x2="38.10" y2="273.27" stroke="#111" stroke-width="1" />
<text x="24.17" y="276.12" font-size="8.2" text-anchor="start" fill="#111" textLength="8.03" lengthAdjust="spacingAndGlyphs" >80</text>
<line x1="35.60" y1="252.65" x2="38.10" y2="252.65" stroke="#111" stroke-width="1" />
<text x="20.16" y="255.5" font-size="8.2" text-anchor="start" fill="#111" textLength="12.04" lengthAdjust="spacingAndGlyphs" >100</text>
<rect x="40.60" y="289.25" width="6.3" height="66.50" fill="#2A4A86"/>
<rect x="47.90" y="308.84" width="6.3" height="46.91" fill="#8E9AC5"/>
<rect x="57.75" y="291.83" width="6.3" height="63.92" fill="#AE0230"/>
<rect x="64.75" y="344.41" width="6.3" height="11.34" fill="#E2968A"/>
<rect x="75.00" y="271.62" width="6.3" height="84.13" fill="#69A84A"/>
<rect x="81.60" y="261.10" width="6.3" height="94.65" fill="#B9D69D"/>
<rect x="92.10" y="276.98" width="6.3" height="78.77" fill="#532468"/>
<rect x="98.75" y="271.62" width="6.3" height="84.13" fill="#9C85AF"/>
<line x1="43.75" y1="284.92" x2="43.75" y2="293.58" stroke="#111" stroke-width="0.9" />
<line x1="42.35" y1="284.92" x2="45.15" y2="284.92" stroke="#111" stroke-width="0.9" />
<line x1="42.35" y1="293.58" x2="45.15" y2="293.58" stroke="#111" stroke-width="0.9" />
<line x1="51.05" y1="299.87" x2="51.05" y2="317.81" stroke="#111" stroke-width="0.9" />
<line x1="49.65" y1="299.87" x2="52.45" y2="299.87" stroke="#111" stroke-width="0.9" />
<line x1="49.65" y1="317.81" x2="52.45" y2="317.81" stroke="#111" stroke-width="0.9" />
<line x1="60.90" y1="284.82" x2="60.90" y2="298.84" stroke="#111" stroke-width="0.9" />
<line x1="59.50" y1="284.82" x2="62.30" y2="284.82" stroke="#111" stroke-width="0.9" />
<line x1="59.50" y1="298.84" x2="62.30" y2="298.84" stroke="#111" stroke-width="0.9" />
<line x1="67.90" y1="339.98" x2="67.90" y2="348.84" stroke="#111" stroke-width="0.9" />
<line x1="66.50" y1="339.98" x2="69.30" y2="339.98" stroke="#111" stroke-width="0.9" />
<line x1="66.50" y1="348.84" x2="69.30" y2="348.84" stroke="#111" stroke-width="0.9" />
<line x1="78.15" y1="266.98" x2="78.15" y2="276.26" stroke="#111" stroke-width="0.9" />
<line x1="76.75" y1="266.98" x2="79.55" y2="266.98" stroke="#111" stroke-width="0.9" />
<line x1="76.75" y1="276.26" x2="79.55" y2="276.26" stroke="#111" stroke-width="0.9" />
<line x1="84.75" y1="259.04" x2="84.75" y2="263.17" stroke="#111" stroke-width="0.9" />
<line x1="83.35" y1="259.04" x2="86.15" y2="259.04" stroke="#111" stroke-width="0.9" />
<line x1="83.35" y1="263.17" x2="86.15" y2="263.17" stroke="#111" stroke-width="0.9" />
<line x1="95.25" y1="270.28" x2="95.25" y2="283.68" stroke="#111" stroke-width="0.9" />
<line x1="93.85" y1="270.28" x2="96.65" y2="270.28" stroke="#111" stroke-width="0.9" />
<line x1="93.85" y1="283.68" x2="96.65" y2="283.68" stroke="#111" stroke-width="0.9" />
<line x1="101.90" y1="267.60" x2="101.90" y2="275.64" stroke="#111" stroke-width="0.9" />
<line x1="100.50" y1="267.60" x2="103.30" y2="267.60" stroke="#111" stroke-width="0.9" />
<line x1="100.50" y1="275.64" x2="103.30" y2="275.64" stroke="#111" stroke-width="0.9" />
<rect x="126.25" y="298.63" width="6.3" height="57.12" fill="#2A4A86"/>
<rect x="133.40" y="309.15" width="6.3" height="46.60" fill="#8E9AC5"/>
<rect x="143.40" y="294.20" width="6.3" height="61.55" fill="#AE0230"/>
<rect x="150.80" y="349.56" width="6.3" height="6.19" fill="#E2968A"/>
<rect x="160.90" y="272.14" width="6.3" height="83.61" fill="#69A84A"/>
<rect x="167.75" y="261.10" width="6.3" height="94.65" fill="#B9D69D"/>
<rect x="178.10" y="280.07" width="6.3" height="75.68" fill="#532468"/>
<rect x="184.75" y="272.45" width="6.3" height="83.30" fill="#9C85AF"/>
<line x1="129.40" y1="291.93" x2="129.40" y2="305.33" stroke="#111" stroke-width="0.9" />
<line x1="128.00" y1="291.93" x2="130.80" y2="291.93" stroke="#111" stroke-width="0.9" />
<line x1="128.00" y1="305.33" x2="130.80" y2="305.33" stroke="#111" stroke-width="0.9" />
<line x1="136.55" y1="300.18" x2="136.55" y2="318.12" stroke="#111" stroke-width="0.9" />
<line x1="135.15" y1="300.18" x2="137.95" y2="300.18" stroke="#111" stroke-width="0.9" />
<line x1="135.15" y1="318.12" x2="137.95" y2="318.12" stroke="#111" stroke-width="0.9" />
<line x1="146.55" y1="288.63" x2="146.55" y2="299.77" stroke="#111" stroke-width="0.9" />
<line x1="145.15" y1="288.63" x2="147.95" y2="288.63" stroke="#111" stroke-width="0.9" />
<line x1="145.15" y1="299.77" x2="147.95" y2="299.77" stroke="#111" stroke-width="0.9" />
<line x1="153.95" y1="348.53" x2="153.95" y2="350.60" stroke="#111" stroke-width="0.9" />
<line x1="152.55" y1="348.53" x2="155.35" y2="348.53" stroke="#111" stroke-width="0.9" />
<line x1="152.55" y1="350.60" x2="155.35" y2="350.60" stroke="#111" stroke-width="0.9" />
<line x1="164.05" y1="265.95" x2="164.05" y2="278.32" stroke="#111" stroke-width="0.9" />
<line x1="162.65" y1="265.95" x2="165.45" y2="265.95" stroke="#111" stroke-width="0.9" />
<line x1="162.65" y1="278.32" x2="165.45" y2="278.32" stroke="#111" stroke-width="0.9" />
<line x1="170.90" y1="260.18" x2="170.90" y2="262.03" stroke="#111" stroke-width="0.9" />
<line x1="169.50" y1="260.18" x2="172.30" y2="260.18" stroke="#111" stroke-width="0.9" />
<line x1="169.50" y1="262.03" x2="172.30" y2="262.03" stroke="#111" stroke-width="0.9" />
<line x1="181.25" y1="276.05" x2="181.25" y2="284.10" stroke="#111" stroke-width="0.9" />
<line x1="179.85" y1="276.05" x2="182.65" y2="276.05" stroke="#111" stroke-width="0.9" />
<line x1="179.85" y1="284.10" x2="182.65" y2="284.10" stroke="#111" stroke-width="0.9" />
<line x1="187.90" y1="268.32" x2="187.90" y2="276.57" stroke="#111" stroke-width="0.9" />
<line x1="186.50" y1="268.32" x2="189.30" y2="268.32" stroke="#111" stroke-width="0.9" />
<line x1="186.50" y1="276.57" x2="189.30" y2="276.57" stroke="#111" stroke-width="0.9" />
<text x="60.9" y="365.9" font-size="8.2" text-anchor="start" fill="#111" textLength="23.8" lengthAdjust="spacingAndGlyphs" >LT-HSC</text>
<text x="146.8" y="366.2" font-size="8.2" text-anchor="start" fill="#111" textLength="24.2" lengthAdjust="spacingAndGlyphs" >ST-HSC</text>
<rect x="43.1" y="385.50" width="7.5" height="2.8" fill="#2A4A86"/>
<text x="53.75" y="390.0" font-size="8.3" fill="#111" textLength="65.85" lengthAdjust="spacingAndGlyphs">Crbn<tspan font-size="6.3" dy="-2.6">I391V/I391V</tspan><tspan dy="2.6"> mxCre</tspan><tspan font-size="6.3" dy="-2.6">+</tspan></text>
<rect x="43.1" y="399.90" width="7.5" height="2.8" fill="#AE0230"/>
<text x="53.75" y="404.40000000000003" font-size="8.3" fill="#111" textLength="100.85" lengthAdjust="spacingAndGlyphs">Crbn<tspan font-size="6.3" dy="-2.6">I391V/I391V</tspan><tspan dy="2.6"> Csnk1a1</tspan><tspan font-size="6.3" dy="-2.6">+/-</tspan><tspan dy="2.6"> mxCre</tspan><tspan font-size="6.3" dy="-2.6">+</tspan></text>
<rect x="43.1" y="414.60" width="7.5" height="2.8" fill="#69A84A"/>
<text x="53.75" y="419.1" font-size="8.3" fill="#111" textLength="91.15" lengthAdjust="spacingAndGlyphs">Crbn<tspan font-size="6.3" dy="-2.6">I391V/I391V</tspan><tspan dy="2.6"> Trp53</tspan><tspan font-size="6.3" dy="-2.6">+/-</tspan><tspan dy="2.6">MxCre</tspan><tspan font-size="6.3" dy="-2.6">+</tspan></text>
<rect x="43.1" y="429.40" width="7.5" height="2.8" fill="#532468"/>
<text x="53.75" y="433.90000000000003" font-size="8.3" fill="#111" textLength="125.45" lengthAdjust="spacingAndGlyphs">Crbn<tspan font-size="6.3" dy="-2.6">I391V/I391V</tspan><tspan dy="2.6"> Csnk1a1</tspan><tspan font-size="6.3" dy="-2.6">+/-</tspan><tspan dy="2.6"> Trp53</tspan><tspan font-size="6.3" dy="-2.6">+/-</tspan><tspan dy="2.6">MxCre</tspan><tspan font-size="6.3" dy="-2.6">+</tspan></text>
<text x="210.6" y="229.75" font-size="11.6" text-anchor="start" fill="#111" textLength="5.4" lengthAdjust="spacingAndGlyphs" >E</text>
<text x="0" y="0" font-size="10" text-anchor="middle" fill="#111" textLength="112.5" lengthAdjust="spacingAndGlyphs" transform="translate(232.5,298.1) rotate(-90)">CD45.2/(CD45.1/2 + CD45.2)</text>
<line x1="254.75" y1="253.10" x2="254.75" y2="343.70" stroke="#111" stroke-width="1.2" />
<line x1="251.75" y1="343.10" x2="388.20" y2="343.10" stroke="#111" stroke-width="1.2" />
<line x1="251.75" y1="343.10" x2="254.75" y2="343.10" stroke="#111" stroke-width="1" />
<text x="239.17" y="345.95000000000005" font-size="8.2" text-anchor="start" fill="#111" textLength="10.03" lengthAdjust="spacingAndGlyphs" >0.0</text>
<line x1="251.75" y1="314.15" x2="254.75" y2="314.15" stroke="#111" stroke-width="1" />
<text x="239.17" y="317.00000000000006" font-size="8.2" text-anchor="start" fill="#111" textLength="10.03" lengthAdjust="spacingAndGlyphs" >0.5</text>
<line x1="251.75" y1="285.20" x2="254.75" y2="285.20" stroke="#111" stroke-width="1" />
<text x="239.17" y="288.05000000000007" font-size="8.2" text-anchor="start" fill="#111" textLength="10.03" lengthAdjust="spacingAndGlyphs" >1.0</text>
<line x1="251.75" y1="256.25" x2="254.75" y2="256.25" stroke="#111" stroke-width="1" />
<text x="239.17" y="259.1" font-size="8.2" text-anchor="start" fill="#111" textLength="10.03" lengthAdjust="spacingAndGlyphs" >1.5</text>
<line x1="254.75" y1="343.10" x2="254.75" y2="346.10" stroke="#111" stroke-width="1" />
<text x="252.75" y="356.4" font-size="8.2" text-anchor="start" fill="#111" textLength="4.01" lengthAdjust="spacingAndGlyphs" >0</text>
<line x1="280.90" y1="343.10" x2="280.90" y2="346.10" stroke="#111" stroke-width="1" />
<text x="276.88" y="356.4" font-size="8.2" text-anchor="start" fill="#111" textLength="8.03" lengthAdjust="spacingAndGlyphs" >10</text>
<line x1="307.05" y1="343.10" x2="307.05" y2="346.10" stroke="#111" stroke-width="1" />
<text x="303.04" y="356.4" font-size="8.2" text-anchor="start" fill="#111" textLength="8.03" lengthAdjust="spacingAndGlyphs" >20</text>
<line x1="333.20" y1="343.10" x2="333.20" y2="346.10" stroke="#111" stroke-width="1" />
<text x="329.19" y="356.4" font-size="8.2" text-anchor="start" fill="#111" textLength="8.03" lengthAdjust="spacingAndGlyphs" >30</text>
<line x1="359.35" y1="343.10" x2="359.35" y2="346.10" stroke="#111" stroke-width="1" />
<text x="355.34" y="356.4" font-size="8.2" text-anchor="start" fill="#111" textLength="8.03" lengthAdjust="spacingAndGlyphs" >40</text>
<line x1="385.50" y1="343.10" x2="385.50" y2="346.10" stroke="#111" stroke-width="1" />
<text x="381.49" y="356.4" font-size="8.2" text-anchor="start" fill="#111" textLength="8.03" lengthAdjust="spacingAndGlyphs" >50</text>
<text x="285.75" y="369.5" font-size="10.0" text-anchor="start" fill="#111" textLength="71.3" lengthAdjust="spacingAndGlyphs" >Days of treatment</text>
<polyline points="254.75,285.20 280.75,277.90 306.60,278.25 335.60,279.53 361.90,278.25" fill="none" stroke="#69AE45" stroke-width="1.0" stroke-linejoin="round"/>
<polyline points="254.75,285.20 280.75,279.41 306.60,273.21 335.60,280.16 361.90,283.29" fill="none" stroke="#69AE45" stroke-width="1.0" stroke-dasharray="1,1" stroke-linejoin="round"/>
<polyline points="254.75,285.20 280.75,277.67 306.60,275.76 335.60,273.85 361.90,274.49" fill="none" stroke="#55266F" stroke-width="1.0" stroke-linejoin="round"/>
<polyline points="254.75,285.20 280.75,298.29 306.60,296.20 335.60,311.83 361.90,318.78" fill="none" stroke="#55266F" stroke-width="1.0" stroke-dasharray="1,1" stroke-linejoin="round"/>
<polyline points="254.75,285.20 280.75,278.25 306.60,275.76 335.60,273.85 361.90,275.13" fill="none" stroke="#B01A3C" stroke-width="1.0" stroke-linejoin="round"/>
<polyline points="254.75,285.20 280.75,294.17 306.60,299.62 335.60,311.83 361.90,318.78" fill="none" stroke="#B01A3C" stroke-width="1.0" stroke-dasharray="1,1" stroke-linejoin="round"/>
<polyline points="254.75,285.20 280.75,276.40 306.60,268.99 335.60,270.73 361.90,273.21" fill="none" stroke="#2D4E8E" stroke-width="1.0" stroke-linejoin="round"/>
<polyline points="254.75,285.20 280.75,282.88 306.60,267.60 335.60,275.76 361.90,280.74" fill="none" stroke="#2D4E8E" stroke-width="1.0" stroke-dasharray="1,1" stroke-linejoin="round"/>
<path d="M254.75,283.04L256.91,285.20L254.75,287.36L252.59,285.20Z" fill="#69AE45"/>
<path d="M280.75,275.74L282.91,277.90L280.75,280.06L278.59,277.90Z" fill="#69AE45"/>
<path d="M306.60,276.09L308.76,278.25L306.60,280.41L304.44,278.25Z" fill="#69AE45"/>
<path d="M335.60,277.37L337.76,279.53L335.60,281.69L333.44,279.53Z" fill="#69AE45"/>
<path d="M361.90,276.09L364.06,278.25L361.90,280.41L359.74,278.25Z" fill="#69AE45"/>
<path d="M254.75,283.04L256.91,285.20L254.75,287.36L252.59,285.20Z" fill="#69AE45"/>
<line x1="280.75" y1="278.25" x2="280.75" y2="280.57" stroke="#69AE45" stroke-width="0.9" />
<line x1="279.25" y1="278.25" x2="282.25" y2="278.25" stroke="#69AE45" stroke-width="0.9" />
<line x1="279.25" y1="280.57" x2="282.25" y2="280.57" stroke="#69AE45" stroke-width="0.9" />
<path d="M280.75,277.25L282.91,279.41L280.75,281.57L278.59,279.41Z" fill="#69AE45"/>
<line x1="306.60" y1="270.90" x2="306.60" y2="275.53" stroke="#69AE45" stroke-width="0.9" />
<line x1="305.10" y1="270.90" x2="308.10" y2="270.90" stroke="#69AE45" stroke-width="0.9" />
<line x1="305.10" y1="275.53" x2="308.10" y2="275.53" stroke="#69AE45" stroke-width="0.9" />
<path d="M306.60,271.05L308.76,273.21L306.60,275.37L304.44,273.21Z" fill="#69AE45"/>
<line x1="335.60" y1="276.69" x2="335.60" y2="283.64" stroke="#69AE45" stroke-width="0.9" />
<line x1="334.10" y1="276.69" x2="337.10" y2="276.69" stroke="#69AE45" stroke-width="0.9" />
<line x1="334.10" y1="283.64" x2="337.10" y2="283.64" stroke="#69AE45" stroke-width="0.9" />
<path d="M335.60,278.00L337.76,280.16L335.60,282.32L333.44,280.16Z" fill="#69AE45"/>
<line x1="361.90" y1="279.82" x2="361.90" y2="286.76" stroke="#69AE45" stroke-width="0.9" />
<line x1="360.40" y1="279.82" x2="363.40" y2="279.82" stroke="#69AE45" stroke-width="0.9" />
<line x1="360.40" y1="286.76" x2="363.40" y2="286.76" stroke="#69AE45" stroke-width="0.9" />
<path d="M361.90,281.13L364.06,283.29L361.90,285.45L359.74,283.29Z" fill="#69AE45"/>
<rect x="252.95" y="283.40" width="3.60" height="3.60" fill="#55266F"/>
<rect x="278.95" y="275.87" width="3.60" height="3.60" fill="#55266F"/>
<rect x="304.80" y="273.96" width="3.60" height="3.60" fill="#55266F"/>
<rect x="333.80" y="272.05" width="3.60" height="3.60" fill="#55266F"/>
<rect x="360.10" y="272.69" width="3.60" height="3.60" fill="#55266F"/>
<path d="M254.75,283.22L256.73,286.64L252.77,286.64Z" fill="#55266F"/>
<line x1="280.75" y1="297.13" x2="280.75" y2="299.44" stroke="#55266F" stroke-width="0.9" />
<line x1="279.25" y1="297.13" x2="282.25" y2="297.13" stroke="#55266F" stroke-width="0.9" />
<line x1="279.25" y1="299.44" x2="282.25" y2="299.44" stroke="#55266F" stroke-width="0.9" />
<path d="M280.75,296.31L282.73,299.73L278.77,299.73Z" fill="#55266F"/>
<line x1="306.60" y1="294.46" x2="306.60" y2="297.94" stroke="#55266F" stroke-width="0.9" />
<line x1="305.10" y1="294.46" x2="308.10" y2="294.46" stroke="#55266F" stroke-width="0.9" />
<line x1="305.10" y1="297.94" x2="308.10" y2="297.94" stroke="#55266F" stroke-width="0.9" />
<path d="M306.60,294.22L308.58,297.64L304.62,297.64Z" fill="#55266F"/>
<line x1="335.60" y1="309.52" x2="335.60" y2="314.15" stroke="#55266F" stroke-width="0.9" />
<line x1="334.10" y1="309.52" x2="337.10" y2="309.52" stroke="#55266F" stroke-width="0.9" />
<line x1="334.10" y1="314.15" x2="337.10" y2="314.15" stroke="#55266F" stroke-width="0.9" />
<path d="M335.60,309.85L337.58,313.27L333.62,313.27Z" fill="#55266F"/>
<path d="M361.90,316.80L363.88,320.22L359.92,320.22Z" fill="#55266F"/>
<path d="M254.75,283.22L256.73,286.64L252.77,286.64Z" fill="#B01A3C"/>
<path d="M280.75,276.27L282.73,279.69L278.77,279.69Z" fill="#B01A3C"/>
<path d="M306.60,273.78L308.58,277.20L304.62,277.20Z" fill="#B01A3C"/>
<path d="M335.60,271.87L337.58,275.29L333.62,275.29Z" fill="#B01A3C"/>
<path d="M361.90,273.15L363.88,276.57L359.92,276.57Z" fill="#B01A3C"/>
<path d="M254.75,287.18L256.73,283.76L252.77,283.76Z" fill="#B01A3C"/>
<line x1="280.75" y1="291.86" x2="280.75" y2="296.49" stroke="#B01A3C" stroke-width="0.9" />
<line x1="279.25" y1="291.86" x2="282.25" y2="291.86" stroke="#B01A3C" stroke-width="0.9" />
<line x1="279.25" y1="296.49" x2="282.25" y2="296.49" stroke="#B01A3C" stroke-width="0.9" />
<path d="M280.75,296.15L282.73,292.73L278.77,292.73Z" fill="#B01A3C"/>
<line x1="306.60" y1="297.88" x2="306.60" y2="301.35" stroke="#B01A3C" stroke-width="0.9" />
<line x1="305.10" y1="297.88" x2="308.10" y2="297.88" stroke="#B01A3C" stroke-width="0.9" />
<line x1="305.10" y1="301.35" x2="308.10" y2="301.35" stroke="#B01A3C" stroke-width="0.9" />
<path d="M306.60,301.60L308.58,298.18L304.62,298.18Z" fill="#B01A3C"/>
<line x1="335.60" y1="308.94" x2="335.60" y2="314.73" stroke="#B01A3C" stroke-width="0.9" />
<line x1="334.10" y1="308.94" x2="337.10" y2="308.94" stroke="#B01A3C" stroke-width="0.9" />
<line x1="334.10" y1="314.73" x2="337.10" y2="314.73" stroke="#B01A3C" stroke-width="0.9" />
<path d="M335.60,313.81L337.58,310.39L333.62,310.39Z" fill="#B01A3C"/>
<path d="M361.90,320.76L363.88,317.34L359.92,317.34Z" fill="#B01A3C"/>
<path d="M254.75,283.04L256.91,285.20L254.75,287.36L252.59,285.20Z" fill="#2D4E8E"/>
<line x1="280.75" y1="275.24" x2="280.75" y2="277.56" stroke="#2D4E8E" stroke-width="0.9" />
<line x1="279.25" y1="275.24" x2="282.25" y2="275.24" stroke="#2D4E8E" stroke-width="0.9" />
<line x1="279.25" y1="277.56" x2="282.25" y2="277.56" stroke="#2D4E8E" stroke-width="0.9" />
<path d="M280.75,274.24L282.91,276.40L280.75,278.56L278.59,276.40Z" fill="#2D4E8E"/>
<line x1="306.60" y1="267.83" x2="306.60" y2="270.15" stroke="#2D4E8E" stroke-width="0.9" />
<line x1="305.10" y1="267.83" x2="308.10" y2="267.83" stroke="#2D4E8E" stroke-width="0.9" />
<line x1="305.10" y1="270.15" x2="308.10" y2="270.15" stroke="#2D4E8E" stroke-width="0.9" />
<path d="M306.60,266.83L308.76,268.99L306.60,271.15L304.44,268.99Z" fill="#2D4E8E"/>
<path d="M335.60,268.56L337.76,270.73L335.60,272.89L333.44,270.73Z" fill="#2D4E8E"/>
<path d="M361.90,271.05L364.06,273.21L361.90,275.37L359.74,273.21Z" fill="#2D4E8E"/>
<rect x="252.95" y="283.40" width="3.60" height="3.60" fill="#2D4E8E"/>
<line x1="280.75" y1="279.99" x2="280.75" y2="285.78" stroke="#2D4E8E" stroke-width="0.9" />
<line x1="279.25" y1="279.99" x2="282.25" y2="279.99" stroke="#2D4E8E" stroke-width="0.9" />
<line x1="279.25" y1="285.78" x2="282.25" y2="285.78" stroke="#2D4E8E" stroke-width="0.9" />
<rect x="278.95" y="281.08" width="3.60" height="3.60" fill="#2D4E8E"/>
<line x1="306.60" y1="263.55" x2="306.60" y2="271.65" stroke="#2D4E8E" stroke-width="0.9" />
<line x1="305.10" y1="263.55" x2="308.10" y2="263.55" stroke="#2D4E8E" stroke-width="0.9" />
<line x1="305.10" y1="271.65" x2="308.10" y2="271.65" stroke="#2D4E8E" stroke-width="0.9" />
<rect x="304.80" y="265.80" width="3.60" height="3.60" fill="#2D4E8E"/>
<line x1="335.60" y1="272.87" x2="335.60" y2="278.66" stroke="#2D4E8E" stroke-width="0.9" />
<line x1="334.10" y1="272.87" x2="337.10" y2="272.87" stroke="#2D4E8E" stroke-width="0.9" />
<line x1="334.10" y1="278.66" x2="337.10" y2="278.66" stroke="#2D4E8E" stroke-width="0.9" />
<rect x="333.80" y="273.96" width="3.60" height="3.60" fill="#2D4E8E"/>
<line x1="361.90" y1="277.85" x2="361.90" y2="283.64" stroke="#2D4E8E" stroke-width="0.9" />
<line x1="360.40" y1="277.85" x2="363.40" y2="277.85" stroke="#2D4E8E" stroke-width="0.9" />
<line x1="360.40" y1="283.64" x2="363.40" y2="283.64" stroke="#2D4E8E" stroke-width="0.9" />
<rect x="360.10" y="278.94" width="3.60" height="3.60" fill="#2D4E8E"/>
<text x="291.2" y="385.9" font-size="7.7" fill="#111" textLength="51.5" lengthAdjust="spacingAndGlyphs">All Crbn<tspan font-size="6.3" dy="-2.6">I391V/I391V</tspan></text>
<line x1="208.70" y1="393.50" x2="217.70" y2="393.50" stroke="#2D4E8E" stroke-width="1.1" />
<path d="M213.20,391.46L215.24,393.50L213.20,395.54L211.16,393.50Z" fill="#2D4E8E"/>
<text x="220.8" y="396.6" font-size="8.3" fill="#111" textLength="44.60" lengthAdjust="spacingAndGlyphs">DMSO MxCre<tspan font-size="6.3" dy="-2.6">+</tspan></text>
<line x1="208.70" y1="407.90" x2="217.70" y2="407.90" stroke="#2D4E8E" stroke-width="1.1" stroke-dasharray="1,1" />
<rect x="211.50" y="406.20" width="3.40" height="3.40" fill="#2D4E8E"/>
<text x="220.8" y="411.0" font-size="8.3" fill="#111" textLength="36.90" lengthAdjust="spacingAndGlyphs">Len MxCre<tspan font-size="6.3" dy="-2.6">+</tspan></text>
<line x1="208.70" y1="422.30" x2="217.70" y2="422.30" stroke="#B01A3C" stroke-width="1.1" />
<path d="M213.20,420.43L215.07,423.66L211.33,423.66Z" fill="#B01A3C"/>
<text x="220.8" y="425.40000000000003" font-size="8.3" fill="#111" textLength="79.20" lengthAdjust="spacingAndGlyphs">DMSO Csnk1a1<tspan font-size="6.3" dy="-2.6">+/-</tspan><tspan dy="2.6"> MxCre</tspan><tspan font-size="6.3" dy="-2.6">+</tspan></text>
<line x1="208.70" y1="436.70" x2="217.70" y2="436.70" stroke="#B01A3C" stroke-width="1.1" stroke-dasharray="1,1" />
<path d="M213.20,438.57L215.07,435.34L211.33,435.34Z" fill="#B01A3C"/>
<text x="220.8" y="439.8" font-size="8.3" fill="#111" textLength="69.60" lengthAdjust="spacingAndGlyphs">Len Csnk1a1<tspan font-size="6.3" dy="-2.6">+/-</tspan><tspan dy="2.6"> MxCre</tspan><tspan font-size="6.3" dy="-2.6">+</tspan></text>
<line x1="316.70" y1="393.50" x2="326.30" y2="393.50" stroke="#69AE45" stroke-width="1.1" />
<path d="M321.50,391.46L323.54,393.50L321.50,395.54L319.46,393.50Z" fill="#69AE45"/>
<text x="329.6" y="396.6" font-size="8.3" fill="#111" textLength="71.40" lengthAdjust="spacingAndGlyphs">DMSO Rps14<tspan font-size="6.3" dy="-2.6">+/-</tspan><tspan dy="2.6"> MxCre</tspan><tspan font-size="6.3" dy="-2.6">+</tspan></text>
<line x1="316.70" y1="407.90" x2="326.30" y2="407.90" stroke="#69AE45" stroke-width="1.1" stroke-dasharray="1,1" />
<path d="M321.50,405.86L323.54,407.90L321.50,409.94L319.46,407.90Z" fill="#69AE45"/>
<text x="329.6" y="411.0" font-size="8.3" fill="#111" textLength="63.10" lengthAdjust="spacingAndGlyphs">Len Rps14<tspan font-size="6.3" dy="-2.6">+/-</tspan><tspan dy="2.6"> MxCre</tspan><tspan font-size="6.3" dy="-2.6">+</tspan></text>
<line x1="316.70" y1="422.30" x2="326.30" y2="422.30" stroke="#55266F" stroke-width="1.1" />
<rect x="319.80" y="420.60" width="3.40" height="3.40" fill="#55266F"/>
<text x="329.6" y="425.40000000000003" font-size="8.3" fill="#111" textLength="104.10" lengthAdjust="spacingAndGlyphs">DMSO Csnk1a1<tspan font-size="6.3" dy="-2.6">+/-</tspan><tspan dy="2.6"> Rps14</tspan><tspan font-size="6.3" dy="-2.6">+/-</tspan><tspan dy="2.6">MxCre</tspan><tspan font-size="6.3" dy="-2.6">+</tspan></text>
<line x1="316.70" y1="436.70" x2="326.30" y2="436.70" stroke="#55266F" stroke-width="1.1" stroke-dasharray="1,1" />
<path d="M321.50,434.83L323.37,438.06L319.63,438.06Z" fill="#55266F"/>
<text x="329.6" y="439.8" font-size="8.3" fill="#111" textLength="95.80" lengthAdjust="spacingAndGlyphs">Len Csnk1a1<tspan font-size="6.3" dy="-2.6">+/-</tspan><tspan dy="2.6"> Rps14</tspan><tspan font-size="6.3" dy="-2.6">+/-</tspan><tspan dy="2.6">MxCre</tspan><tspan font-size="6.3" dy="-2.6">+</tspan></text>
</svg>
<div id="frame"></div>
</div></body></html>
